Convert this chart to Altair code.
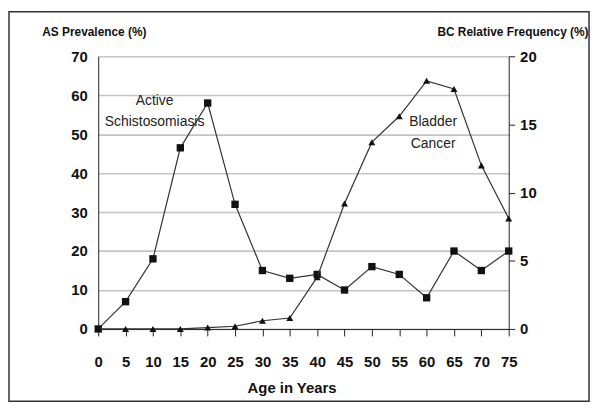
import altair as alt
import pandas as pd

ages = [0, 5, 10, 15, 20, 25, 30, 35, 40, 45, 50, 55, 60, 65, 70, 75]
as_prevalence = [0, 7, 18, 46.5, 58, 32, 15, 13, 14, 10, 16, 14, 8, 20, 15, 20]
bc_frequency = [0, 0, 0, 0, 0.1, 0.2, 0.6, 0.8, 3.8, 9.2, 13.7, 15.6, 18.2, 17.6, 12.0, 8.1]

left_ticks = [0, 10, 20, 30, 40, 50, 60, 70]
right_ticks = [0, 5, 10, 15, 20]

ann_as_text = ["Active", "Schistosomiasis"]
ann_as_x = [10.3, 10.3]
ann_as_y = [58.5, 53]
ann_bc_text = ["Bladder", "Cancer"]
ann_bc_x = [61.2, 61.2]
ann_bc_y = [53, 47.5]

FONT = "Liberation Sans, Arial, sans-serif"

df_as = pd.DataFrame({"age": ages, "val": as_prevalence})
df_bc = pd.DataFrame({"age": ages, "val": bc_frequency})
df_ann = pd.DataFrame({"age": ann_as_x + ann_bc_x,
                       "val": ann_as_y + ann_bc_y,
                       "t": ann_as_text + ann_bc_text})

x_axis = alt.Axis(values=ages, title="Age in Years", grid=False,
                  labelOverlap=False, labelFlush=False, tickCount=16,
                  domainColor="#222", tickColor="#222", tickSize=7,
                  labelFont=FONT, labelFontSize=15, labelFontWeight="bold",
                  labelColor="#111", labelPadding=19,
                  titleFont=FONT, titleFontSize=15, titleFontWeight="bold",
                  titleColor="#111", titleX=195, titleY=59,
                  titleBaseline="middle", titleAlign="center")
x_enc = alt.X("age:Q", scale=alt.Scale(domain=[0, 75], nice=False), axis=x_axis)

y_left_axis = alt.Axis(values=left_ticks, title="AS Prevalence (%)", orient="left",
                       labelOverlap=False, labelFlush=False, tickCount=8,
                       grid=True, gridColor="#c4c4c4", gridWidth=1.6,
                       ticks=False, domainColor="#222",
                       labelFont=FONT, labelFontSize=15, labelFontWeight="bold",
                       labelColor="#111", labelPadding=11,
                       titleFont=FONT, titleFontSize=12, titleFontWeight="bold",
                       titleColor="#111", titleAngle=0, titleAlign="left",
                       titleX=-57, titleY=-25, titleBaseline="middle")
y_left = alt.Y("val:Q", scale=alt.Scale(domain=[0, 70], nice=False), axis=y_left_axis)

y_right_axis = alt.Axis(values=right_ticks, title="BC Relative Frequency (%)",
                        orient="right", grid=False, domainColor="#222",
                        labelOverlap=False, labelFlush=False, tickCount=5,
                        tickColor="#222", tickSize=6,
                        labelFont=FONT, labelFontSize=15, labelFontWeight="bold",
                        labelColor="#111", labelPadding=5,
                        titleFont=FONT, titleFontSize=12, titleFontWeight="bold",
                        titleColor="#111", titleAngle=0, titleAlign="right",
                        titleX=80, titleY=-25, titleBaseline="middle")
y_right = alt.Y("val:Q", scale=alt.Scale(domain=[0, 20], nice=False), axis=y_right_axis)

as_line = alt.Chart(df_as).mark_line(color="#333", strokeWidth=1.2).encode(x=x_enc, y=y_left)
as_pts = alt.Chart(df_as).mark_point(shape="square", filled=True, size=55, color="#111",
                                     opacity=1).encode(x=x_enc, y=y_left)
ann = alt.Chart(df_ann).mark_text(font=FONT, fontSize=14, color="#222").encode(
    x=x_enc, y=y_left, text="t:N")
left_layer = alt.layer(as_line, as_pts, ann)

bc_line = alt.Chart(df_bc).mark_line(color="#333", strokeWidth=1.2).encode(x=x_enc, y=y_right)
bc_pts = alt.Chart(df_bc).mark_point(shape="triangle-up", filled=True, size=50, color="#111",
                                     opacity=1).encode(x=x_enc, y=y_right)
border = alt.Chart(df_bc.head(1)).mark_rect(fill=None, stroke="#333", strokeWidth=1.5).encode(
    x=alt.value(-90), x2=alt.value(495), y=alt.value(-45), y2=alt.value(348))
right_layer = alt.layer(bc_line, bc_pts, border)

chart = alt.layer(left_layer, right_layer).resolve_scale(y="independent").properties(
    width=414, height=275,
    autosize=alt.AutoSizeParams(type="none"),
    padding={"left": 91, "top": 47, "right": 84, "bottom": 74},
    background="white",
).configure_view(stroke=None)

chart.save("out.html", embed_options={"renderer": "svg", "actions": False})
